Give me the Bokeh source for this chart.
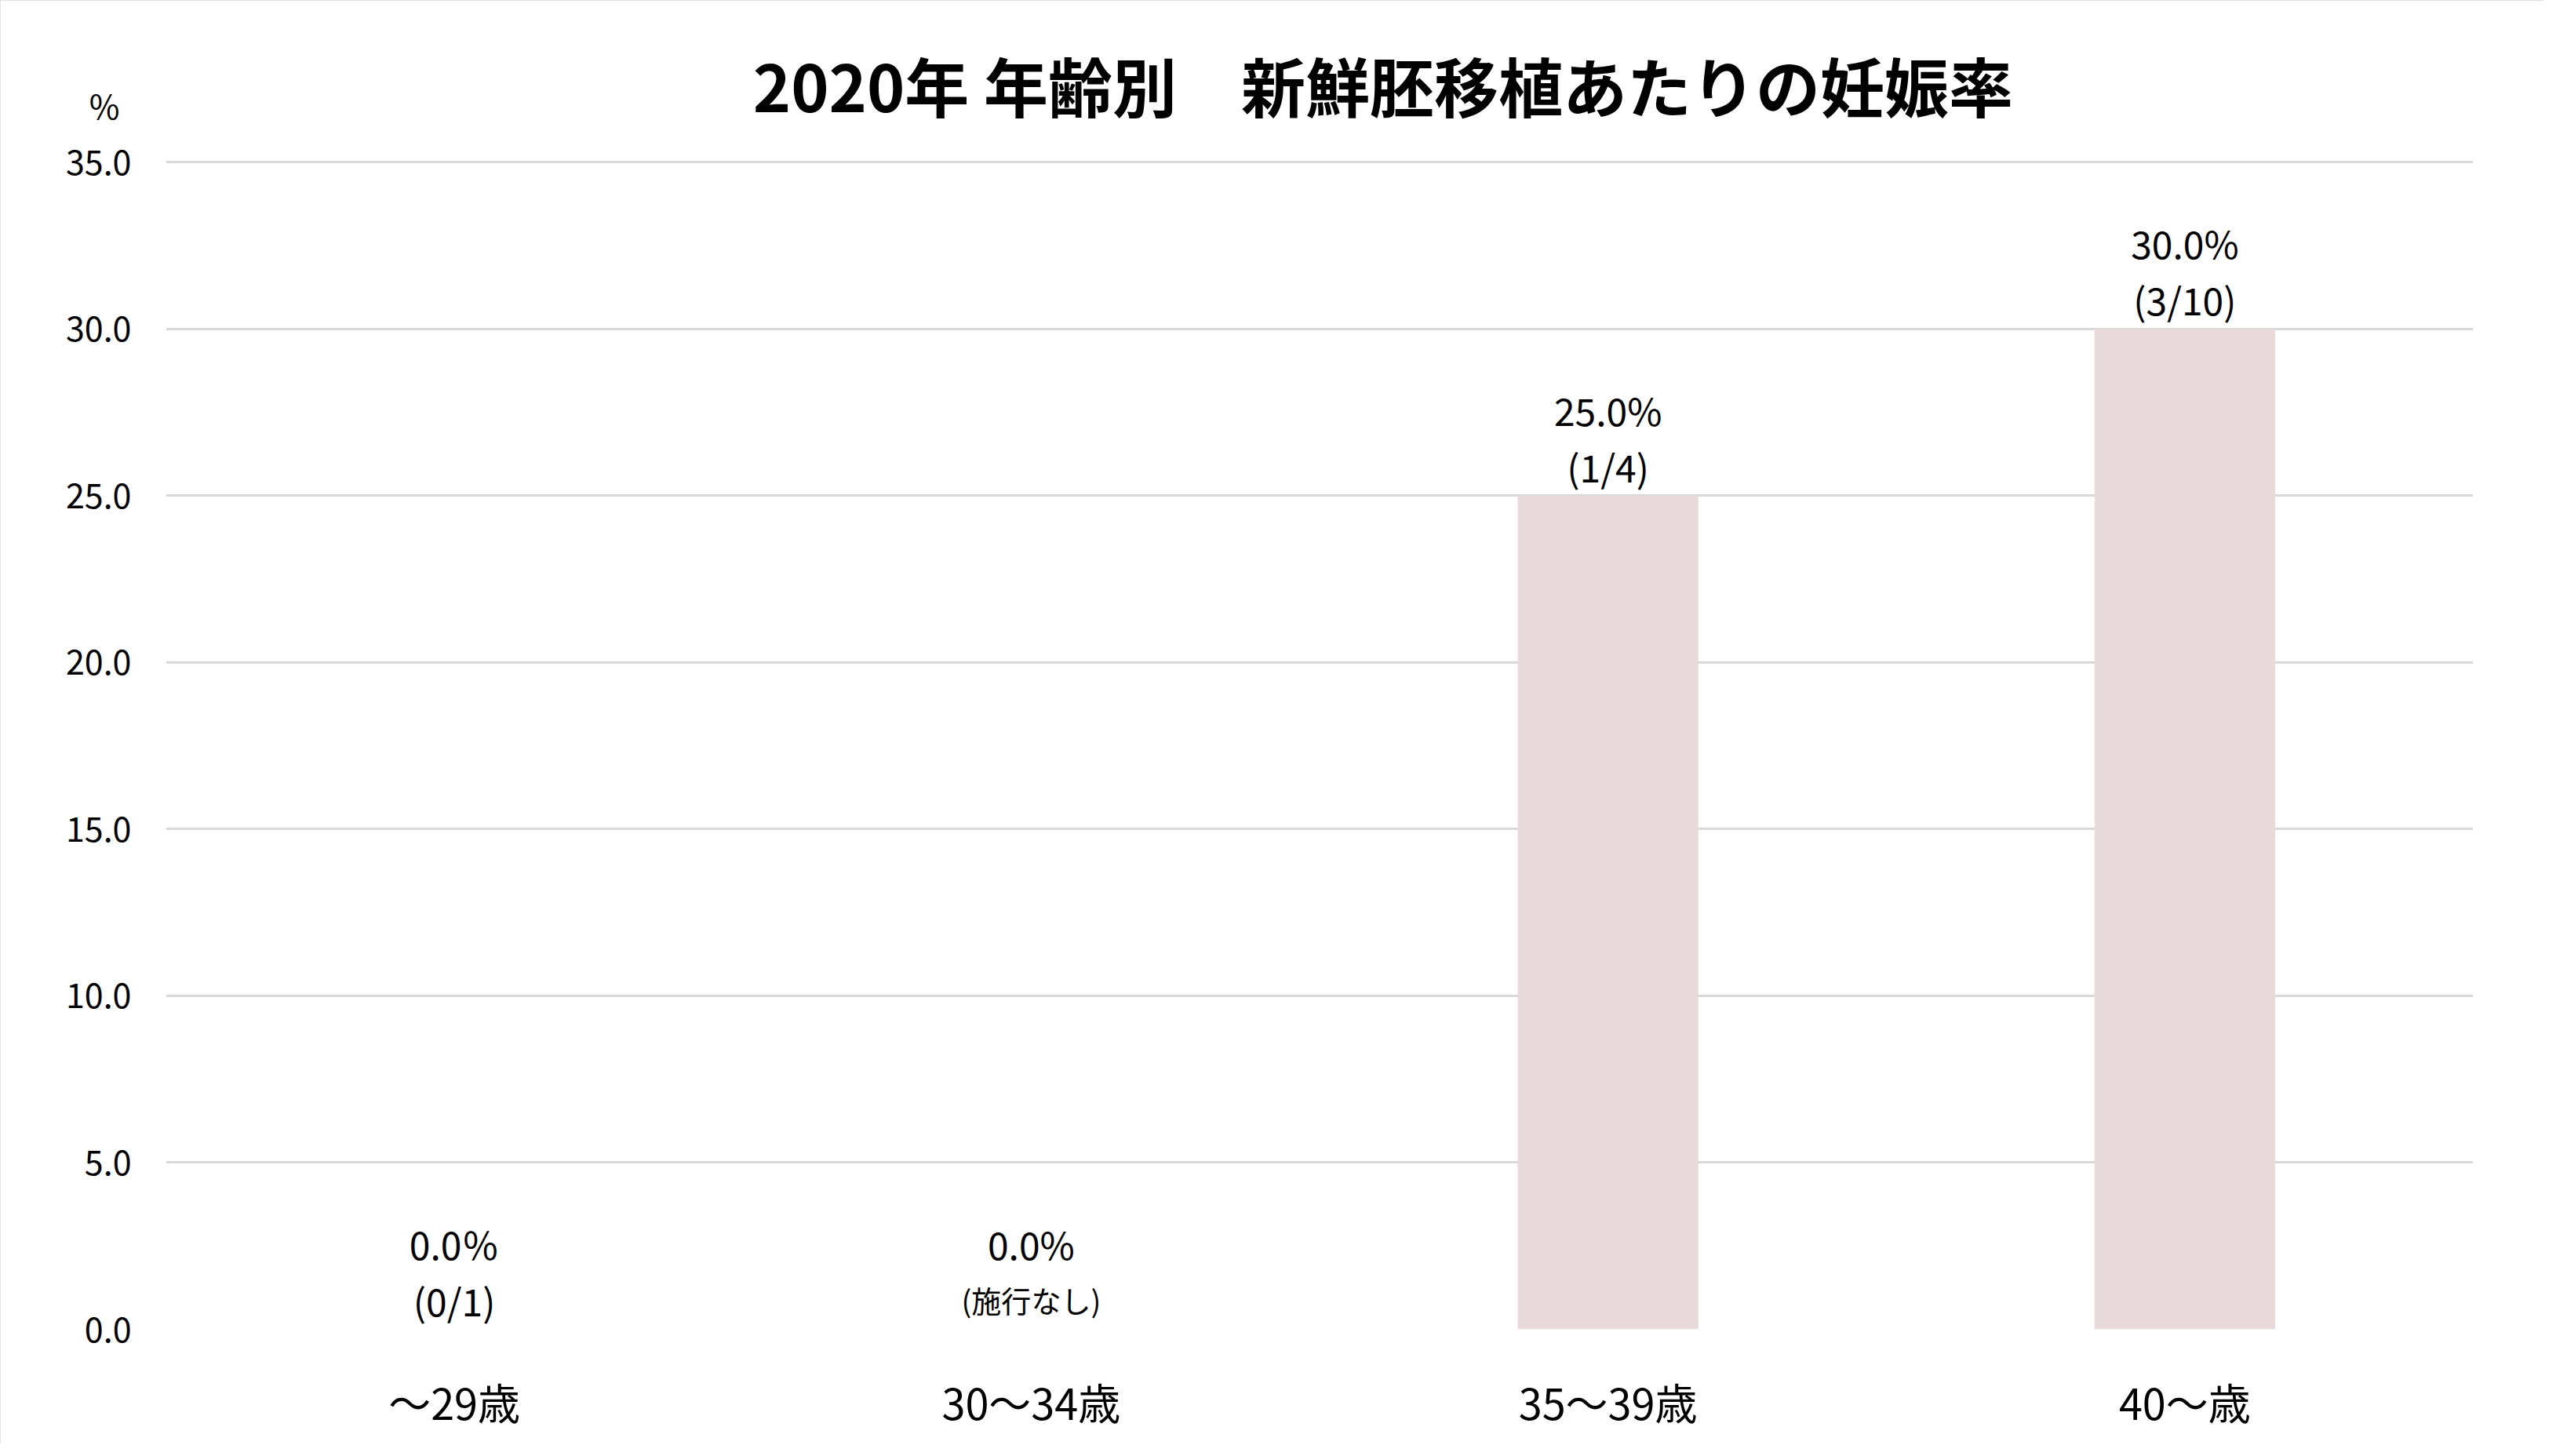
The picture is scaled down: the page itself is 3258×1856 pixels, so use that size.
from bokeh.plotting import figure
from bokeh.models import (ColumnDataSource, FactorRange, Range1d, NumeralTickFormatter,
                          Label, FixedTicker, LinearAxis)
from bokeh.core.properties import value, field
from bokeh.embed import file_html
from bokeh.resources import INLINE

# ---- data ----
categories = ["～29歳", "30～34歳", "35～39歳", "40～歳"]
rates = [0.0, 0.0, 25.0, 30.0]
rate_labels = ["0.0％", "0.0%", "25.0%", "30.0%"]
count_labels = ["(0/1)", "(施行なし)", "(1/4)", "(3/10)"]
y_ticks = [0, 5, 10, 15, 20, 25, 30, 35]
title_text = "2020年 年齢別　新鮮胚移植あたりの妊娠率"
unit_text = "%"

# ---- layout / styles ----
FONT = "Noto Sans CJK JP"
count_sizes = ["48px", "38px", "48px", "48px"]
Y_VIEW_TOP = 39.375      # frame extends above the last gridline to hold the title
UNIT_POS = 36.72         # vertical position of the unit label on the value axis
TITLE_POS = (2.11, 37.33)

src = ColumnDataSource(dict(cat=categories, rate=rates, rate_label=rate_labels,
                            count_label=count_labels, count_size=count_sizes))

p = figure(x_range=FactorRange(*categories), y_range=Range1d(0, Y_VIEW_TOP),
           width=3242, height=1840, output_backend="svg", toolbar_location=None,
           min_border_left=211, min_border_right=90, min_border_top=20, min_border_bottom=146)
p.background_fill_color = "white"
p.border_fill_color = "white"
p.outline_line_color = None
p.styles = {"outline": "3px solid #D9D9D9", "outline-offset": "-3px"}

p.xgrid.grid_line_color = None
p.ygrid.grid_line_color = "#D9D9D9"
p.ygrid.grid_line_width = 3
p.ygrid.ticker = FixedTicker(ticks=y_ticks)

p.yaxis.ticker = FixedTicker(ticks=y_ticks)
p.yaxis.formatter = NumeralTickFormatter(format="0.0")
for ax in (p.xaxis, p.yaxis):
    ax.axis_line_color = None
    ax.major_tick_line_color = None
    ax.minor_tick_line_color = None
    ax.major_label_text_font = FONT
    ax.major_label_text_color = "black"
p.yaxis.major_label_text_font_size = "43px"
p.yaxis.major_label_standoff = 38
p.xaxis.major_label_text_font_size = "54px"
p.xaxis.major_label_standoff = 46

# unit label ("%") as a second value axis carrying a single labelled tick
unit_axis = LinearAxis(ticker=FixedTicker(ticks=[UNIT_POS]),
                       major_label_overrides={UNIT_POS: unit_text},
                       axis_line_color=None, major_tick_line_color=None,
                       minor_tick_line_color=None, major_tick_out=0, major_tick_in=0,
                       major_label_standoff=-72, major_label_text_align="center",
                       major_label_text_font=FONT, major_label_text_font_size="42px",
                       major_label_text_color="black")
p.add_layout(unit_axis, "left")

p.vbar(x="cat", top="rate", width=0.313, source=src,
       fill_color="#E8DADB", line_color=None)

p.text(x="cat", y="rate", text="rate_label", source=src, y_offset=-110,
       text_align="center", text_baseline="middle", text_font=value(FONT),
       text_font_size="48px", text_color="black")
p.text(x="cat", y="rate", text="count_label", source=src, y_offset=-38,
       text_align="center", text_baseline="middle", text_font=value(FONT),
       text_font_size=field("count_size"), text_color="black")

p.add_layout(Label(x=TITLE_POS[0], y=TITLE_POS[1], text=title_text, text_align="center",
                   text_baseline="middle", text_font=FONT, text_font_size="82px",
                   text_font_style="bold", text_color="black"))

open("out.html", "w").write(file_html(p, INLINE))
